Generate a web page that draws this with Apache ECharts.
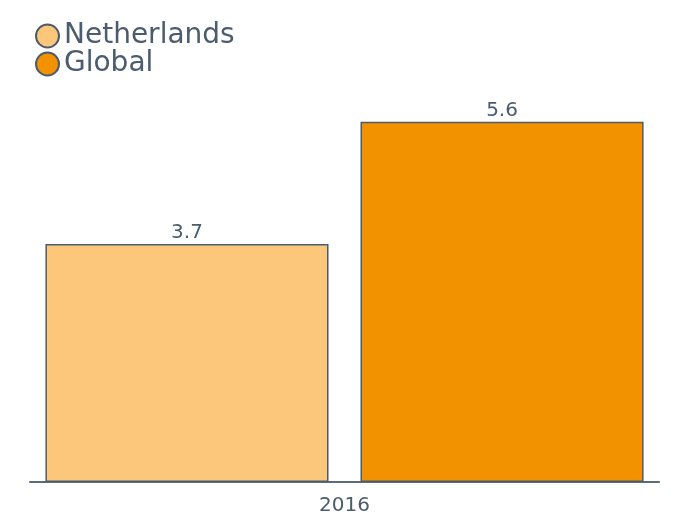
<!DOCTYPE html>
<html><head><meta charset="utf-8">
<script src="https://cdn.jsdelivr.net/npm/echarts@6/dist/echarts.min.js"></script>
<style>html,body{margin:0;padding:0;background:#fff}#c{width:675px;height:516px}</style>
</head><body><div id="c"></div>
<script>
const categories = ['2016'];
const seriesNames = ['Netherlands', 'Global'];
const netherlands = [3.7];
const global = [5.6];
const colors = ['#FCC77B', '#F39200'];
const textColor = '#4A5C6E';
const chart = echarts.init(document.getElementById('c'));
const font = 'DejaVu Sans';
chart.setOption({
  animation: false,
  textStyle: { fontFamily: font },
  legend: {
    orient: 'vertical', left: 30, top: 17, itemWidth: 23, itemHeight: 23, itemGap: 0,
    icon: 'circle',
    textStyle: { fontSize: 28, color: textColor, fontFamily: font },
    data: seriesNames,
    itemStyle: { borderColor: textColor, borderWidth: 2 }
  },
  grid: { left: 30, right: 16, top: 96, bottom: 31 },
  xAxis: {
    type: 'category', data: categories,
    axisLine: { lineStyle: { color: '#5B6B7B', width: 2 } },
    axisTick: { show: false },
    axisLabel: { fontSize: 20, color: textColor, margin: 14, fontFamily: font }
  },
  yAxis: { type: 'value', min: 0, max: 6, show: false, splitLine: { show: false } },
  series: [
    { name: seriesNames[0], type: 'bar', data: netherlands, barCategoryGap: '4.9%', barGap: '11.3%',
      itemStyle: { color: colors[0], borderColor: textColor, borderWidth: 1.5 },
      label: { show: true, position: 'top', fontSize: 20, color: textColor, distance: 1, fontFamily: font } },
    { name: seriesNames[1], type: 'bar', data: global, barCategoryGap: '4.9%', barGap: '11.3%',
      itemStyle: { color: colors[1], borderColor: textColor, borderWidth: 1.5 },
      label: { show: true, position: 'top', fontSize: 20, color: textColor, distance: 1, fontFamily: font } }
  ]
});
</script></body></html>
